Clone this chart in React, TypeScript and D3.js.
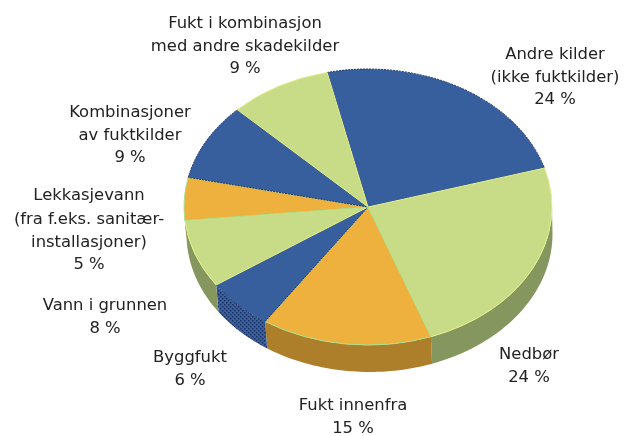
import React from "react";
import * as d3 from "d3";

const categories = ["Andre kilder", "Nedbør", "Fukt innenfra", "Byggfukt", "Vann i grunnen", "Lekkasjevann", "Kombinasjoner", "Fukt i kombinasjon"];
const values = [24, 24, 15, 6, 8, 5, 9, 9];
const labelLines = [
  ["Andre kilder", "(ikke fuktkilder)", "24 %"],
  ["Nedbør", "24 %"],
  ["Fukt innenfra", "15 %"],
  ["Byggfukt", "6 %"],
  ["Vann i grunnen", "8 %"],
  ["Lekkasjevann", "(fra f.eks. sanitær-", "installasjoner)", "5 %"],
  ["Kombinasjoner", "av fuktkilder", "9 %"],
  ["Fukt i kombinasjon", "med andre skadekilder", "9 %"],
];
const labelX = [555, 529, 353, 190, 105, 89, 130, 245];
const labelY = [59, 359, 410, 362, 310, 200, 117, 28];
const topColors = ["#375e9d", "#c8dc88", "#eeb13c", "#375e9d", "#c8dc88", "#eeb13c", "#375e9d", "#c8dc88"];
const wallColors = ["#2a4a80", "#85975f", "#ae7f2b", "url(#dots)", "#85975f", "#ae7f2b", "#2a4a80", "#85975f"];
const edgeColors = ["#1d3565", "#e4ec88", "#a8e08c", "#1d3565", "#e4ec88", "#a8e08c", "#1d3565", "#e4ec88"];

const W = 624, H = 436;
const cx = 368, cy = 207, rx = 184, ry = 138, depth = 27;
const cxLow = 369.5, rxLow = 183;
const startDeg = -12.8;

export default function App() {
  const start = (startDeg * Math.PI) / 180;
  const arcs = d3.pie<number>().sort(null).startAngle(start).endAngle(start + 2 * Math.PI)(values);
  const arc = d3.arc<d3.PieArcDatum<number>>().innerRadius(0).outerRadius(1);
  const xs = d3.scaleLinear().domain([-1, 1]).range([cx - rx, cx + rx]);
  const xsLow = d3.scaleLinear().domain([-1, 1]).range([cxLow - rxLow, cxLow + rxLow]);
  const ys = d3.scaleLinear().domain([-1, 1]).range([cy - ry, cy + ry]);

  const walls = arcs.map((a) => {
    const lo = Math.max(a.startAngle, Math.PI / 2);
    const hi = Math.min(a.endAngle, (3 * Math.PI) / 2);
    if (hi <= lo) return null;
    const angles = d3.range(0, 41).map((i) => lo + ((hi - lo) * i) / 40);
    const top = angles.map((t) => [xs(Math.sin(t)), ys(-Math.cos(t))] as [number, number]);
    const bottom = angles.map((t) => [xsLow(Math.sin(t)), ys(-Math.cos(t)) + depth] as [number, number]).reverse();
    return d3.line()([...top, ...bottom]) + "Z";
  });

  return (
    <svg width={W} height={H} style={{ position: "absolute", left: 0, top: 0, background: "#fff" }}>
      <defs>
        <filter id="soft" x="-5%" y="-5%" width="110%" height="110%">
          <feGaussianBlur stdDeviation="0.35" />
        </filter>
        <pattern id="dots" width="4" height="4" patternUnits="userSpaceOnUse">
          <rect width="4" height="4" fill="#3a60a0" />
          <rect x="0" y="0" width="1.5" height="1.5" fill="#1d3565" />
          <rect x="2" y="2" width="1.5" height="1.5" fill="#1d3565" />
        </pattern>
      </defs>
      <g filter="url(#soft)">
        {walls.map((d, i) => d && <path key={"w" + i} d={d} fill={wallColors[i]} />)}
        <g transform={`translate(${cx},${cy}) scale(${rx},${ry})`}>
          {arcs.map((a, i) => (
            <path
              key={categories[i]}
              d={arc(a) as string}
              fill={topColors[i]}
              stroke={edgeColors[i]}
              strokeWidth={1}
              strokeDasharray={topColors[i] === "#375e9d" ? "2 1" : undefined}
              vectorEffect="non-scaling-stroke"
            />
          ))}
        </g>
      </g>
      <g fontFamily="'DejaVu Sans', sans-serif" fontSize={16.4} fill="#222" textAnchor="middle" filter="url(#soft)">
        {labelLines.map((lines, i) => (
          <text key={i} x={labelX[i]} y={labelY[i]}>
            {lines.map((l, j) => (
              <tspan key={j} x={labelX[i]} dy={j === 0 ? 0 : i === 5 && j === 1 ? 24 : 22.5}>
                {l}
              </tspan>
            ))}
          </text>
        ))}
      </g>
    </svg>
  );
}
